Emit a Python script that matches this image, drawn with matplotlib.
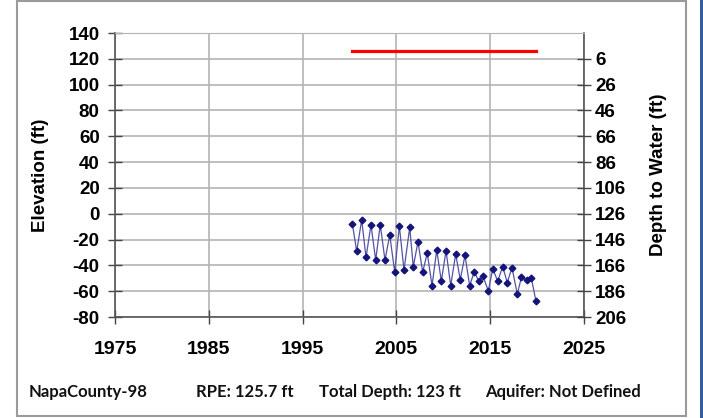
import matplotlib
matplotlib.use("Agg")
import matplotlib.pyplot as plt
from matplotlib.patches import Rectangle

# Well hydrograph: groundwater elevation with depth-to-water on the right axis
WELL_ID = "NapaCounty-98"
RPE = 125.7          # reference point elevation (ft)
TOTAL_DEPTH = 123    # ft
AQUIFER = "Not Defined"

years = [2000.30, 2000.77, 2001.30, 2001.76, 2002.29, 2002.79, 2003.28, 2003.78,
         2004.29, 2004.82, 2005.31, 2005.81, 2006.42, 2006.80, 2007.30, 2007.80,
         2008.29, 2008.80, 2009.30, 2009.79, 2010.29, 2010.79, 2011.32, 2011.81,
         2012.31, 2012.81, 2013.31, 2013.77, 2014.23, 2014.80, 2015.27, 2015.80,
         2016.33, 2016.82, 2017.32, 2017.89, 2018.32, 2018.89, 2019.38, 2019.88]
elevation = [-7.7, -29.2, -4.6, -33.9, -8.5, -35.9, -8.5, -35.9,
             -16.5, -45.2, -9.3, -43.7, -10.6, -41.1, -21.7, -45.2,
             -30.5, -55.7, -28.1, -52.2, -28.7, -55.7, -31.3, -51.0,
             -32.3, -55.7, -44.8, -52.2, -48.4, -59.8, -42.7, -52.2,
             -40.9, -53.3, -41.7, -62.3, -49.4, -51.0, -49.7, -67.8]

rpe_years = [2000.3, 2019.9]

elev_ticks = list(range(-80, 141, 20))
year_ticks = [1975, 1985, 1995, 2005, 2015, 2025]

fig = plt.figure(figsize=(7.03, 4.18), dpi=100)
fig.patch.set_facecolor("white")

# outer frame and blue edge strip
fig.add_artist(Rectangle((17 / 703, 1 - 416 / 418), (686 - 17) / 703, (416 - 1) / 418,
                         transform=fig.transFigure, fill=False,
                         edgecolor="#9a9a9a", linewidth=1.5))
fig.add_artist(Rectangle((700 / 703, 0), 3 / 703, 1, transform=fig.transFigure,
                         facecolor="#2f5f9e", edgecolor="none"))

ax = fig.add_axes([115 / 703, 1 - 317 / 418, (584 - 115) / 703, (317 - 33) / 418])

ax.plot(rpe_years, [RPE, RPE], color="#ff0000", linewidth=2.3, zorder=3)
ax.plot(years, elevation, color="#5252a8", linewidth=0.9, marker="D",
        markersize=3.4, markerfacecolor="#14147a", markeredgecolor="#14147a", zorder=4)

ax.set_xlim(1975, 2025)
ax.set_ylim(-80, 140)
ax.set_xticks(year_ticks)
ax.set_yticks(elev_ticks)
ax.grid(True, color="#b4b4b4", linewidth=1.2)
ax.set_axisbelow(True)

bold = dict(family="Liberation Sans", weight="bold")
ax.set_xticklabels([str(y) for y in year_ticks], fontsize=14, **bold)
ax.set_yticklabels([str(v) for v in elev_ticks], fontsize=13.5, **bold)
ax.tick_params(axis="y", direction="inout", length=10, width=1, color="#444444", pad=6)
ax.tick_params(axis="x", direction="inout", length=10, width=1, color="#444444", pad=12)
ax.set_ylabel("Elevation (ft)", fontsize=13.5, labelpad=14, **bold)

for side in ["left", "right", "bottom"]:
    ax.spines[side].set_color("#555555")
    ax.spines[side].set_linewidth(1.2)
ax.spines["top"].set_color("#b4b4b4")

# right axis: depth to water = RPE - elevation
ax2 = ax.twinx()
ax2.set_ylim(-80, 140)
depth_pos = elev_ticks[:-1]
ax2.set_yticks(depth_pos)
ax2.set_yticklabels([str(round(RPE - v)) for v in depth_pos], fontsize=13.5, **bold)
ax2.tick_params(axis="y", direction="inout", length=10, width=1, color="#444444", pad=3)
ax2.set_ylabel("Depth to Water (ft)", fontsize=13.5, labelpad=17, **bold)
for s in ax2.spines.values():
    s.set_visible(False)

# footer with well info
foot = dict(family="Lato", fontsize=12, weight="bold", va="center", ha="left",
            color="#111111")
fig.text(29 / 703, 1 - 392 / 418, WELL_ID, **foot)
fig.text(196 / 703, 1 - 392 / 418, f"RPE: {RPE} ft", **foot)
fig.text(319 / 703, 1 - 392 / 418, f"Total Depth: {TOTAL_DEPTH} ft", **foot)
fig.text(485 / 703, 1 - 392 / 418, f"Aquifer: {AQUIFER}", **foot)

fig.savefig("out.png", dpi=100, facecolor="white")
